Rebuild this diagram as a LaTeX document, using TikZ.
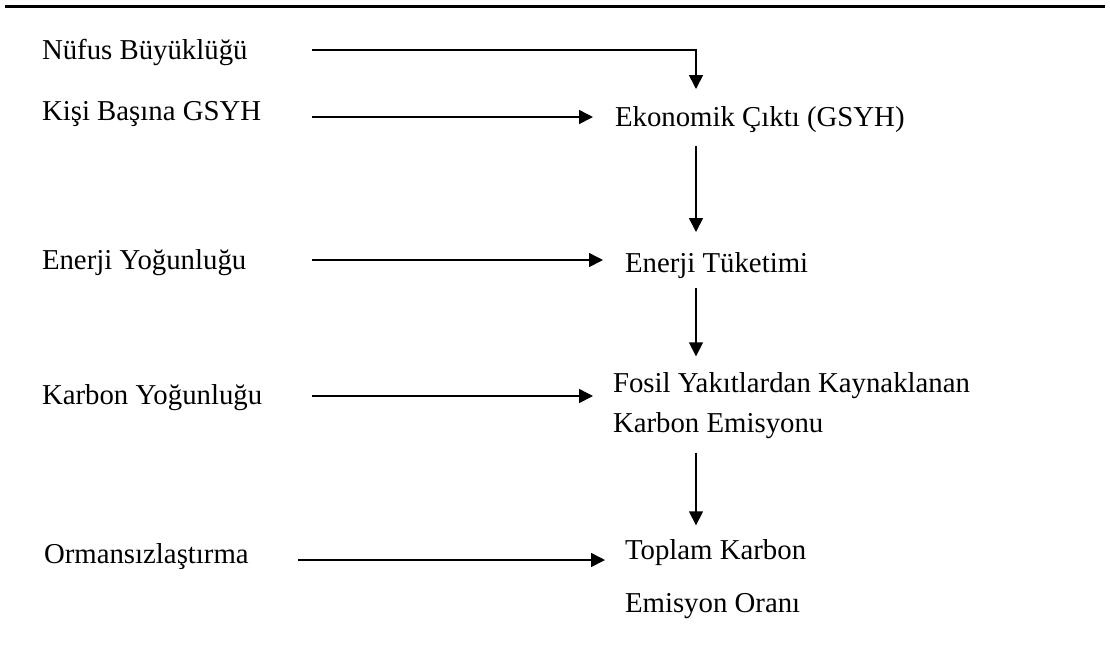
\documentclass[tikz,border=0pt]{standalone}
\usepackage{fontspec}
\setmainfont{Liberation Serif}
\usetikzlibrary{arrows.meta}
\begin{document}
\begin{tikzpicture}[x=0.5pt,y=-0.5pt,
  lbl/.style={inner sep=0pt, outer sep=0pt, anchor=base west, text height=10pt, text depth=3pt, font=\fontsize{14.4}{20}\selectfont},
  lbl2/.style={inner sep=0pt, outer sep=0pt, anchor=north west, align=left, font=\fontsize{14.4}{20}\selectfont},
  arr/.style={line width=0.8pt, -{Triangle[length=7pt,width=7pt]}},
  rulestyle/.style={line width=1.1pt}]
\useasboundingbox (0,0) rectangle (1110,661);
% top rule
\coordinate (r1) at (5,6.5);
\coordinate (r2) at (1105,6.5);
\draw[rulestyle] (r1) -- (r2);
% left labels
\node[lbl] (nufus) at (42,59) {Nüfus Büyüklüğü};
\node[lbl] (kisi) at (42,120) {Kişi Başına GSYH};
\node[lbl] (eyog) at (42,269) {Enerji Yoğunluğu};
\node[lbl] (kyog) at (42,404) {Karbon Yoğunluğu};
\node[lbl] (orm) at (44,563) {Ormansızlaştırma};
% right column
\node[lbl] (ekon) at (615,126) {Ekonomik Çıktı (GSYH)};
\node[lbl] (etuk) at (625,272) {Enerji Tüketimi};
\node[lbl2] (fosil) at (613,372.3) {Fosil Yakıtlardan Kaynaklanan\\Karbon Emisyonu};
\node[lbl2] (toplam) at (625,539.3) {Toplam Karbon\\[6.5pt]Emisyon Oranı};
% arrow starts
\coordinate (s1) at (312,50);
\coordinate (s2) at (312,117);
\coordinate (s3) at (312,260);
\coordinate (s4) at (312,396);
\coordinate (s5) at (298,560);
\coordinate (vx) at (696,0);
% horizontal arrows
\draw[arr, shorten >=8.5pt] (s1) -| (ekon.north -| vx);
\draw[arr, shorten >=11pt] (s2) -- (ekon.west |- s2);
\draw[arr, shorten >=11pt] (s3) -- (etuk.west |- s3);
\draw[arr, shorten >=10pt] (s4) -- (fosil.west |- s4);
\draw[arr, shorten >=10pt] (s5) -- (toplam.west |- s5);
% vertical arrows
\draw[arr, shorten <=7pt, shorten >=10pt] (ekon.south -| vx) -- (etuk.north -| vx);
\draw[arr, shorten <=5pt, shorten >=8pt] (etuk.south -| vx) -- (fosil.north -| vx);
\draw[arr, shorten <=7pt, shorten >=7pt] (fosil.south -| vx) -- (toplam.north -| vx);
\end{tikzpicture}
\end{document}
